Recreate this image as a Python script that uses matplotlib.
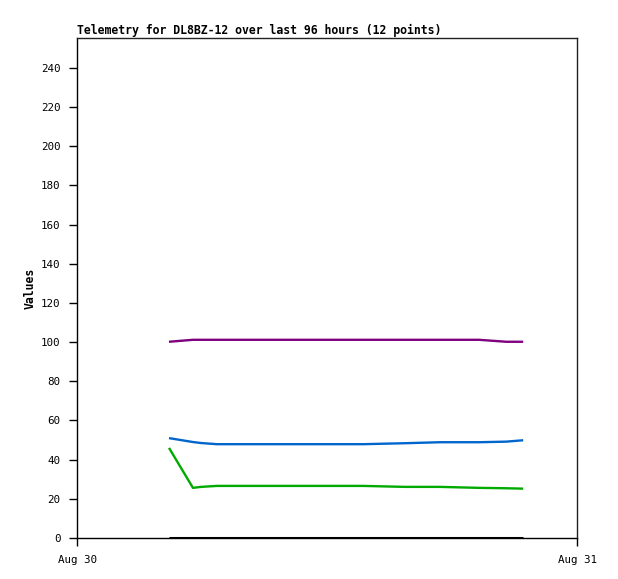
import matplotlib
matplotlib.use("Agg")
import matplotlib.pyplot as plt
import matplotlib.dates as mdates
from datetime import datetime

times = ["2024-08-30 04:25", "2024-08-30 05:34", "2024-08-30 05:57", "2024-08-30 06:43",
         "2024-08-30 08:47", "2024-08-30 11:11", "2024-08-30 13:44", "2024-08-30 15:45",
         "2024-08-30 17:25", "2024-08-30 19:18", "2024-08-30 20:36", "2024-08-30 21:25"]
purple_vals = [100.2, 101.2, 101.2, 101.2, 101.2, 101.2, 101.2, 101.2, 101.2, 101.2, 100.2, 100.2]
blue_vals = [51.0, 49.0, 48.5, 47.9, 47.9, 47.9, 47.9, 48.4, 48.9, 48.9, 49.2, 49.9]
green_vals = [46.0, 25.6, 26.1, 26.6, 26.6, 26.6, 26.6, 26.1, 26.1, 25.6, 25.4, 25.2]
black_vals = [0.2] * 12
x_tick_labels = ["Aug 30", "Aug 31"]
y_ticks = [0, 20, 40, 60, 80, 100, 120, 140, 160, 180, 200, 220, 240]

t = [datetime.strptime(s, "%Y-%m-%d %H:%M") for s in times]

W, H = 618, 579
fig = plt.figure(figsize=(W / 100, H / 100), dpi=100)
ax = fig.add_axes([77 / W, (H - 538) / H, 500 / W, 500 / H])

ax.plot(t, black_vals, color="#000000", lw=2.2, solid_capstyle="butt")
ax.plot(t, green_vals, color="#00aa00", lw=1.7, solid_capstyle="butt")
ax.plot(t, blue_vals, color="#0066cc", lw=1.7, solid_capstyle="butt")
ax.plot(t, purple_vals, color="#7f007f", lw=1.7, solid_capstyle="butt")

x0 = datetime(2024, 8, 30)
x1 = datetime(2024, 8, 31)
ax.set_xlim(x0, x1)
ax.set_ylim(0, 255.3)
ax.set_xticks([x0, x1])
ax.set_xticklabels(x_tick_labels)
ax.set_yticks(y_ticks)
ax.set_yticklabels([str(v) for v in y_ticks])

mono = "DejaVu Sans Mono"
for lab in ax.get_xticklabels() + ax.get_yticklabels():
    lab.set_family(mono)
    lab.set_fontsize(7.8)
ax.tick_params(axis="both", direction="out", length=6, width=1, color="#000000", pad=6)

for s in ax.spines.values():
    s.set_linewidth(1)
    s.set_color("#222222")
ax.spines["left"].set_color("#000000")
ax.spines["bottom"].set_color("#000000")

ax.set_ylabel("Values", family=mono, fontsize=8.3, fontweight="bold", labelpad=3)
ax.set_title("Telemetry for DL8BZ-12 over last 96 hours (12 points)", family=mono,
             fontsize=8.3, fontweight="bold", loc="left", pad=3)

fig.savefig("out.png", dpi=100)
